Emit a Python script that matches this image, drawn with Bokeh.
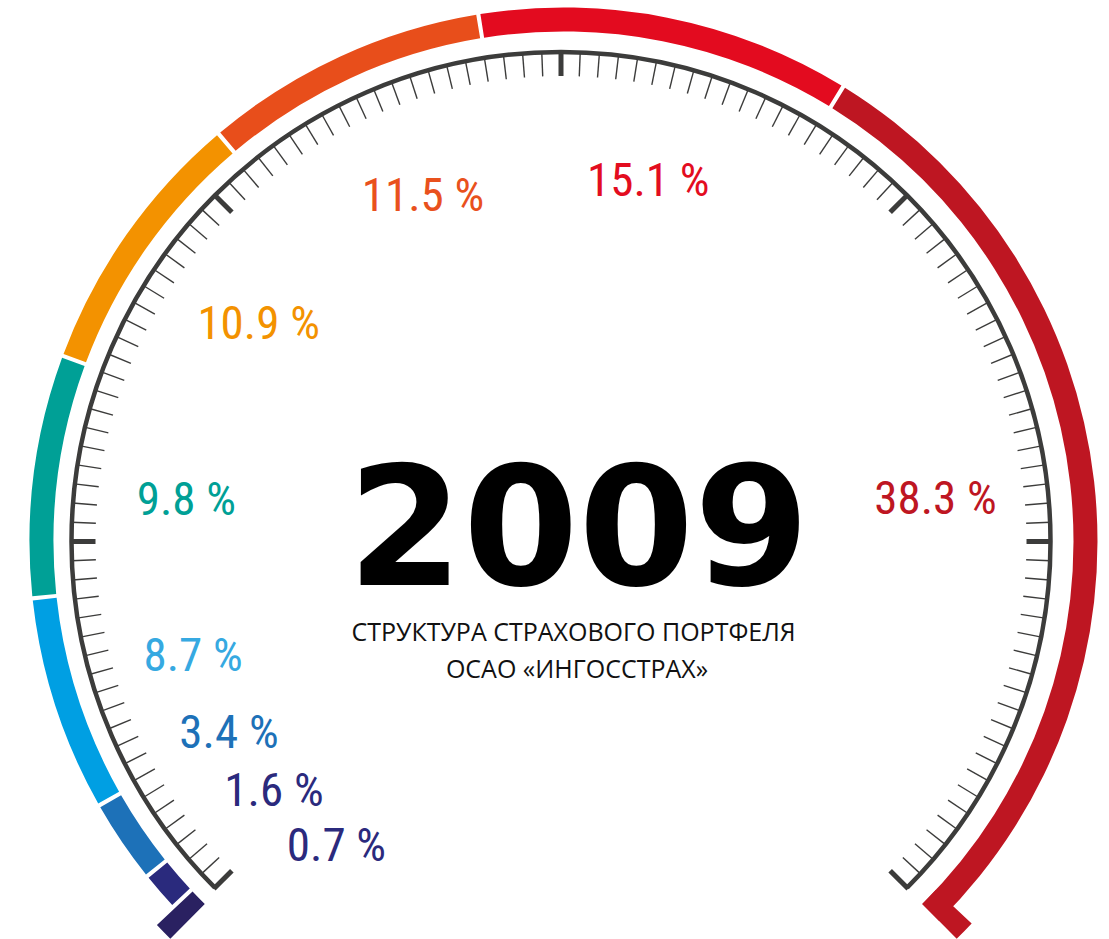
import math
from bokeh.plotting import figure
from bokeh.models import Range1d, ColumnDataSource
from bokeh.core.properties import value
from bokeh.embed import file_html
from bokeh.resources import INLINE

# ---------------- data ----------------
shares = [0.7, 1.6, 3.4, 8.7, 9.8, 10.9, 11.5, 15.1, 38.3]
share_labels = ["0.7 %", "1.6 %", "3.4 %", "8.7 %", "9.8 %", "10.9 %", "11.5 %", "15.1 %", "38.3 %"]
seg_colors = ["#2a2161", "#2a2a7d", "#1d71b8", "#009fe3", "#00a096",
              "#f39200", "#e84e1b", "#e30b1f", "#be1622"]
label_colors = ["#2b2a7d", "#2b2a7d", "#1d71b8", "#36a9e1", "#00a096",
                "#f39200", "#e9511d", "#e30d1f", "#be1622"]
title_year = "2009"
subtitle_lines = ["СТРУКТУРА СТРАХОВОГО ПОРТФЕЛЯ", "ОСАО «ИНГОССТРАХ»"]

# ---------------- layout ----------------
W, H = 1109, 939
def Y(sy):  # screen y -> data y
    return H - sy

BASE_FIX = 0.375  # svg text baseline correction (fraction of font size)

START_DEG, SPAN_DEG = 225.0, 270.0
# gauge arc (coloured)
acx, acy = 563.0, Y(541)
r_in, r_out = 510.0, 534.0
r_cap = 559.0
gap = 0.45
# scale ring
rcx, rcy = 560.5, Y(541)
r_ring = 489.5
tick_len = 24.0
tick_step = 2.25
# label placement (angle shift from segment middle, radius from ring centre)
label_shift = [9.5, 0.0, -4.3, -0.7, 0.7, -0.8, -3.0, -2.4, -0.1]
label_r = [378, 380, 383, 385, 377, 373, 373, 371, 377]
label_size = 47
label_cap = 0.711

p = figure(width=W, height=H, x_range=Range1d(0, W), y_range=Range1d(0, H),
           output_backend="svg", toolbar_location=None, min_border=0)
p.axis.visible = False
p.grid.visible = False
p.outline_line_color = None
p.background_fill_color = "white"

# ---------- coloured segments ----------
total = sum(shares)
cum = 0.0
starts, ends, outs, mids = [], [], [], []
for i, s in enumerate(shares):
    a0 = START_DEG - SPAN_DEG * cum / total          # larger angle
    a1 = START_DEG - SPAN_DEG * (cum + s) / total    # smaller angle
    mids.append((a0 + a1) / 2)
    hi = a0 - (gap / 2 if i > 0 else -0.3)
    lo = a1 + (gap / 2 if i < len(shares) - 1 else -0.3)
    starts.append(math.radians(lo))
    ends.append(math.radians(hi))
    outs.append(r_cap if i == 0 else r_out)
    cum += s

seg_src = ColumnDataSource(dict(start=starts, end=ends, outer=outs, color=seg_colors))
p.annular_wedge(x=acx, y=acy, inner_radius=r_in, outer_radius="outer",
                start_angle="start", end_angle="end", direction="anticlock",
                fill_color="color", line_color=None, source=seg_src)

# end cap of the last segment (hook outward)
last_lo = starts[-1]
p.annular_wedge(x=acx, y=acy, inner_radius=r_in, outer_radius=r_cap,
                start_angle=last_lo, end_angle=last_lo + math.radians(2.2),
                direction="anticlock", fill_color=seg_colors[-1], line_color=None)

# ---------- scale ring ----------
p.arc(x=rcx, y=rcy, radius=r_ring, start_angle=math.radians(START_DEG - SPAN_DEG),
      end_angle=math.radians(START_DEG), direction="anticlock",
      line_color="#3c3c3b", line_width=4.5)

n_ticks = int(round(SPAN_DEG / tick_step))
minor = dict(x0=[], y0=[], x1=[], y1=[])
major = dict(x0=[], y0=[], x1=[], y1=[])
for k in range(n_ticks + 1):
    a = math.radians(START_DEG - k * tick_step)
    d = major if k % 20 == 0 else minor
    ro = r_ring + (1.5 if k % 20 == 0 else 0.5)
    d["x0"].append(rcx + ro * math.cos(a))
    d["y0"].append(rcy + ro * math.sin(a))
    d["x1"].append(rcx + (r_ring - tick_len) * math.cos(a))
    d["y1"].append(rcy + (r_ring - tick_len) * math.sin(a))
p.segment(x0="x0", y0="y0", x1="x1", y1="y1", source=ColumnDataSource(minor),
          line_color="#3c3c3b", line_width=1.4)
p.segment(x0="x0", y0="y0", x1="x1", y1="y1", source=ColumnDataSource(major),
          line_color="#3c3c3b", line_width=5)

# ---------- percentage labels ----------
lx, ly = [], []
for m, sh, r in zip(mids, label_shift, label_r):
    a = math.radians(m + sh)
    lx.append(rcx + r * math.cos(a))
    ly.append(rcy + r * math.sin(a) - label_cap * label_size / 2 + BASE_FIX * label_size)
lab_src = ColumnDataSource(dict(x=lx, y=ly, text=share_labels, color=label_colors))
p.text(x="x", y="y", text="text", text_color="color", source=lab_src,
       text_align="center", text_baseline="alphabetic",
       text_font=value("Roboto Condensed, DejaVu Sans Condensed, Roboto, sans-serif"),
       text_font_size=f"{label_size}px")

# ---------- centre text ----------
ys = 166
p.text(x=[578], y=[Y(586) + BASE_FIX * ys], text=[title_year], text_align="center",
       text_baseline="alphabetic", text_font=value("DejaVu Sans"),
       text_font_style="bold", text_font_size=f"{ys}px", text_color="#000000")
ss = 25
p.text(x=[573, 576.5], y=[Y(640) + BASE_FIX * ss, Y(677) + BASE_FIX * ss],
       text=subtitle_lines, text_align="center",
       text_baseline="alphabetic", text_font=value("Open Sans"),
       text_font_size=f"{ss}px", text_color="#111111")

open("out.html", "w").write(file_html(p, INLINE))
